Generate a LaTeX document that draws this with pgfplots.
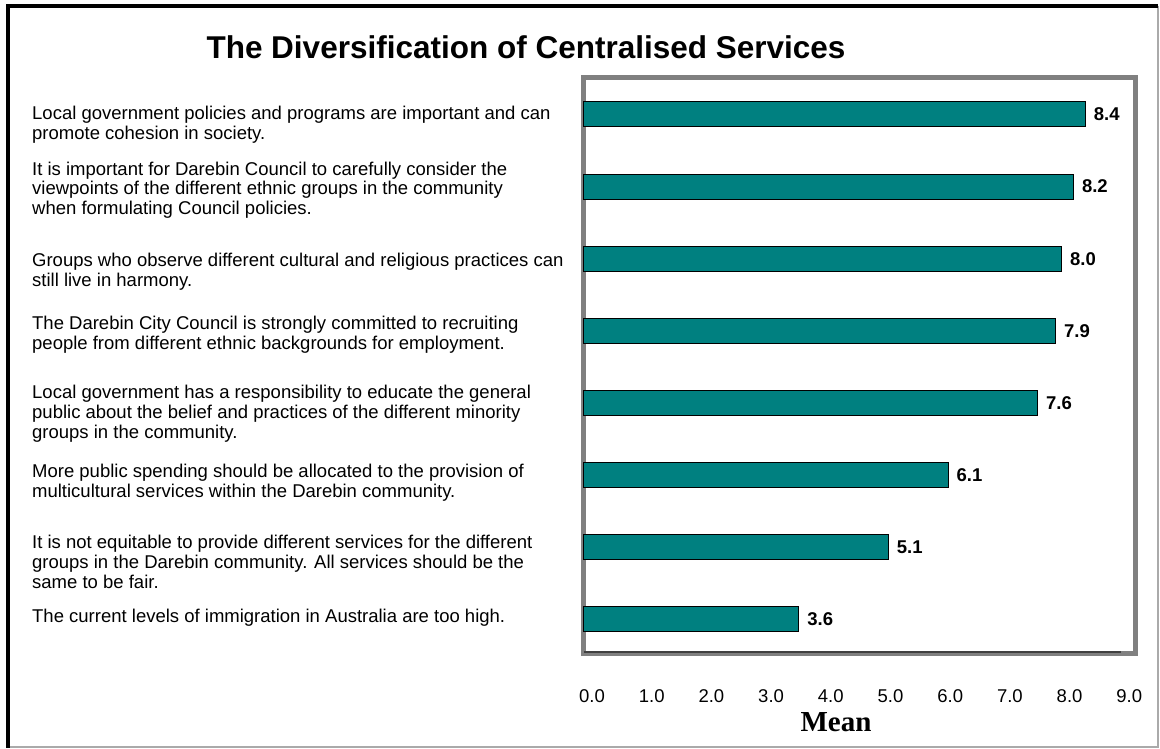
\documentclass[border=0pt]{standalone}
\usepackage{pgfplots}
\pgfplotsset{compat=1.18}
\usepackage{fontspec}
\setmainfont{Liberation Sans}
\newfontfamily\timesfont{Liberation Serif}

\definecolor{barteal}{RGB}{0,128,128}
\definecolor{boxgray}{RGB}{128,128,128}
\definecolor{axisdark}{RGB}{64,64,64}
\definecolor{framegray}{RGB}{170,170,170}

\begin{document}
\begin{tikzpicture}[x=1pt,y=1pt]
\useasboundingbox (0,0) rectangle (1160,749);
% outer frame
\draw[framegray, line width=1.5pt] (8,2) -- (1158,2) -- (1158,743);
\draw[black, line width=4pt] (8,1) -- (8,743) -- (1158,743);

\node[font=\fontsize{31.5}{36}\selectfont\bfseries] at (526,702) {The Diversification of Centralised Services};

\begin{axis}[
    at={(584pt,95pt)}, anchor=south west,
    scale only axis, width=551pt, height=576pt,
    xbar, bar width=25pt, bar shift=0pt,
    xmin=0, xmax=9.23, ymin=0.517, ymax=8.506,
    axis line style={draw=none},
    axis background/.style={draw=boxgray, line width=5pt},
    major tick length=0pt,
    xtick={0,1,...,9},
    xticklabels={0.0,1.0,2.0,3.0,4.0,5.0,6.0,7.0,8.0,9.0},
    xticklabel style={anchor=center, yshift=-42pt, xshift=8pt,
        font=\fontsize{18.5}{22}\selectfont},
    ytick={1.021,1.792,2.889,3.847,4.945,5.82,6.951,7.854},
    yticklabels={
        {The current levels of immigration in Australia are too high.},
        {It is not equitable to provide different services for the different\\groups in the Darebin community. All services should be the\\same to be fair.},
        {More public spending should be allocated to the provision of\\multicultural services within the Darebin community.},
        {Local government has a responsibility to educate the general\\public about the belief and practices of the different minority\\groups in the community.},
        {The Darebin City Council is strongly committed to recruiting\\people from different ethnic backgrounds for employment.},
        {Groups who observe different cultural and religious practices can\\still live in harmony.},
        {It is important for Darebin Council to carefully consider the\\viewpoints of the different ethnic groups in the community\\when formulating Council policies.},
        {Local government policies and programs are important and can\\promote cohesion in society.}
    },
    yticklabel style={anchor=west, align=left, inner sep=0pt, xshift=-552pt,
        font=\fontsize{18.5}{19.8}\selectfont},
    nodes near coords={\pgfmathprintnumber[fixed,fixed zerofill,precision=1,assume math mode=true]{\pgfplotspointmeta}},
    nodes near coords style={anchor=west, inner sep=0pt, xshift=8pt,
        font=\fontsize{18.5}{22}\selectfont\bfseries},
    clip=false,
]
\addplot[draw=black, fill=barteal, line width=1pt]
    coordinates {(3.6,1) (5.1,2) (6.1,3) (7.6,4) (7.9,5) (8.0,6) (8.2,7) (8.4,8)};
% dark category axis line along the bottom of the plot area
\draw[axisdark, line width=1.5pt] (axis cs:0,0.545) -- (axis cs:9,0.545);
\end{axis}

\node[font=\fontsize{29}{33}\selectfont\timesfont\bfseries] at (836,27) {Mean};
\end{tikzpicture}
\end{document}
